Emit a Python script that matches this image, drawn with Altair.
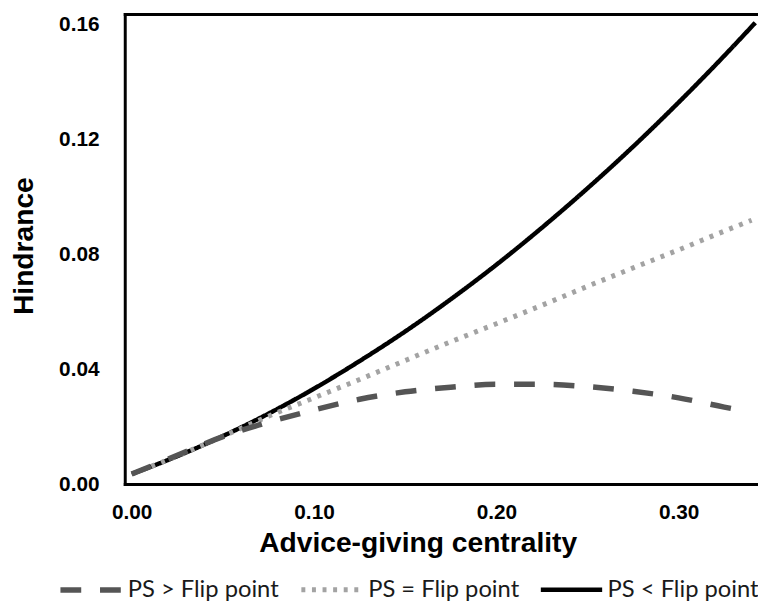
import altair as alt
import pandas as pd

series_names = ["PS > Flip point", "PS = Flip point", "PS < Flip point"]

solid_x = [0.000, 0.025, 0.050, 0.075, 0.100, 0.125, 0.150, 0.175, 0.200, 0.225, 0.250, 0.275, 0.300, 0.325, 0.342]
solid_y = [0.0035, 0.0097, 0.0167, 0.0245, 0.0332, 0.0428, 0.0531, 0.0643, 0.0763, 0.0892, 0.1029, 0.1174, 0.1328, 0.1490, 0.1605]

dotted_x = [0.000, 0.025, 0.050, 0.075, 0.100, 0.125, 0.150, 0.175, 0.200, 0.225, 0.250, 0.275, 0.300, 0.325, 0.340]
dotted_y = [0.0035, 0.0098, 0.0166, 0.0236, 0.0300, 0.0364, 0.0430, 0.0495, 0.0558, 0.0622, 0.0688, 0.0752, 0.0815, 0.0880, 0.0918]

dashed_x = [0.000, 0.025, 0.050, 0.075, 0.100, 0.125, 0.150, 0.175, 0.200, 0.225, 0.250, 0.275, 0.300, 0.325, 0.335]
dashed_y = [0.0035, 0.0100, 0.0165, 0.0215, 0.0258, 0.0295, 0.0321, 0.0337, 0.0347, 0.0347, 0.0339, 0.0323, 0.0300, 0.0268, 0.0256]

rows = []
for name, xs, ys in [
    (series_names[2], solid_x, solid_y),
    (series_names[1], dotted_x, dotted_y),
    (series_names[0], dashed_x, dashed_y),
]:
    for i, (a, b) in enumerate(zip(xs, ys)):
        rows.append({"x": a, "y": b, "series": name, "i": i})
df = pd.DataFrame(rows)

x_scale = alt.Scale(domain=[-0.0038, 0.3435], nice=False, zero=False)
y_scale = alt.Scale(domain=[0, 0.1635], nice=False, zero=False)

axis_font = "Liberation Sans"

lines = alt.Chart(df).mark_line(strokeCap="butt", strokeJoin="round", interpolate="monotone").encode(
    x=alt.X("x:Q", scale=x_scale, axis=alt.Axis(
        values=[0.0, 0.1, 0.2, 0.3], format=".2f", grid=False, ticks=False,
        labelFont=axis_font, labelFontSize=21, labelFontWeight="bold", labelColor="black",
        labelPadding=18, domainColor="black", domainWidth=3, domainCap="square",
        title="Advice-giving centrality", titleFont=axis_font, titleFontSize=28.5,
        titleFontWeight="bold", titleColor="black", titleX=296, titleY=68,
        titleBaseline="alphabetic", labelFlush=False)),
    y=alt.Y("y:Q", scale=y_scale, axis=alt.Axis(
        values=[0.0, 0.04, 0.08, 0.12, 0.16], format=".2f", grid=False, ticks=False,
        labelFont=axis_font, labelFontSize=21, labelFontWeight="bold", labelColor="black",
        labelPadding=26, domainColor="black", domainWidth=3, domainCap="square",
        title="Hindrance", titleFont=axis_font, titleFontSize=28.5, titleFontWeight="bold",
        titleColor="black", titleAngle=270, titleX=-93, titleY=234,
        titleBaseline="alphabetic", labelFlush=False)),
    color=alt.Color("series:N", scale=alt.Scale(domain=series_names,
                    range=["#555555", "#a3a3a3", "#000000"]),
                    legend=alt.Legend(title=None, orient="none", direction="horizontal",
                                      legendX=-68, legendY=548, symbolType="stroke",
                                      symbolSize=3844, labelFont="Lato", labelFontSize=24,
                                      labelColor="#1a1a1a", labelOffset=3, columnPadding=12)),
    strokeDash=alt.StrokeDash("series:N", scale=alt.Scale(domain=series_names,
                    range=[[21, 19], [4, 6.7], [1, 0]])),
    strokeWidth=alt.StrokeWidth("series:N", scale=alt.Scale(domain=series_names,
                    range=[5.5, 4.5, 4.5])),
    detail="series:N",
    order="i:Q",
)

top = alt.Chart(df).mark_line(opacity=0).encode(
    x=alt.X("x:Q", scale=x_scale, axis=alt.Axis(orient="top", labels=False, ticks=False,
            grid=False, title=None, domainColor="black", domainWidth=3, domainCap="square")),
    y=alt.Y("y:Q", scale=y_scale),
    detail="series:N",
)

chart = alt.layer(lines, top).resolve_axis(x="independent").properties(
    width=640, height=475,
    autosize=alt.AutoSizeParams(type="none"),
    padding={"left": 118, "top": 3, "right": 0, "bottom": 115},
).configure_view(stroke=None).configure(background="white")

chart.save("out.html", embed_options={"renderer": "svg", "actions": False})
